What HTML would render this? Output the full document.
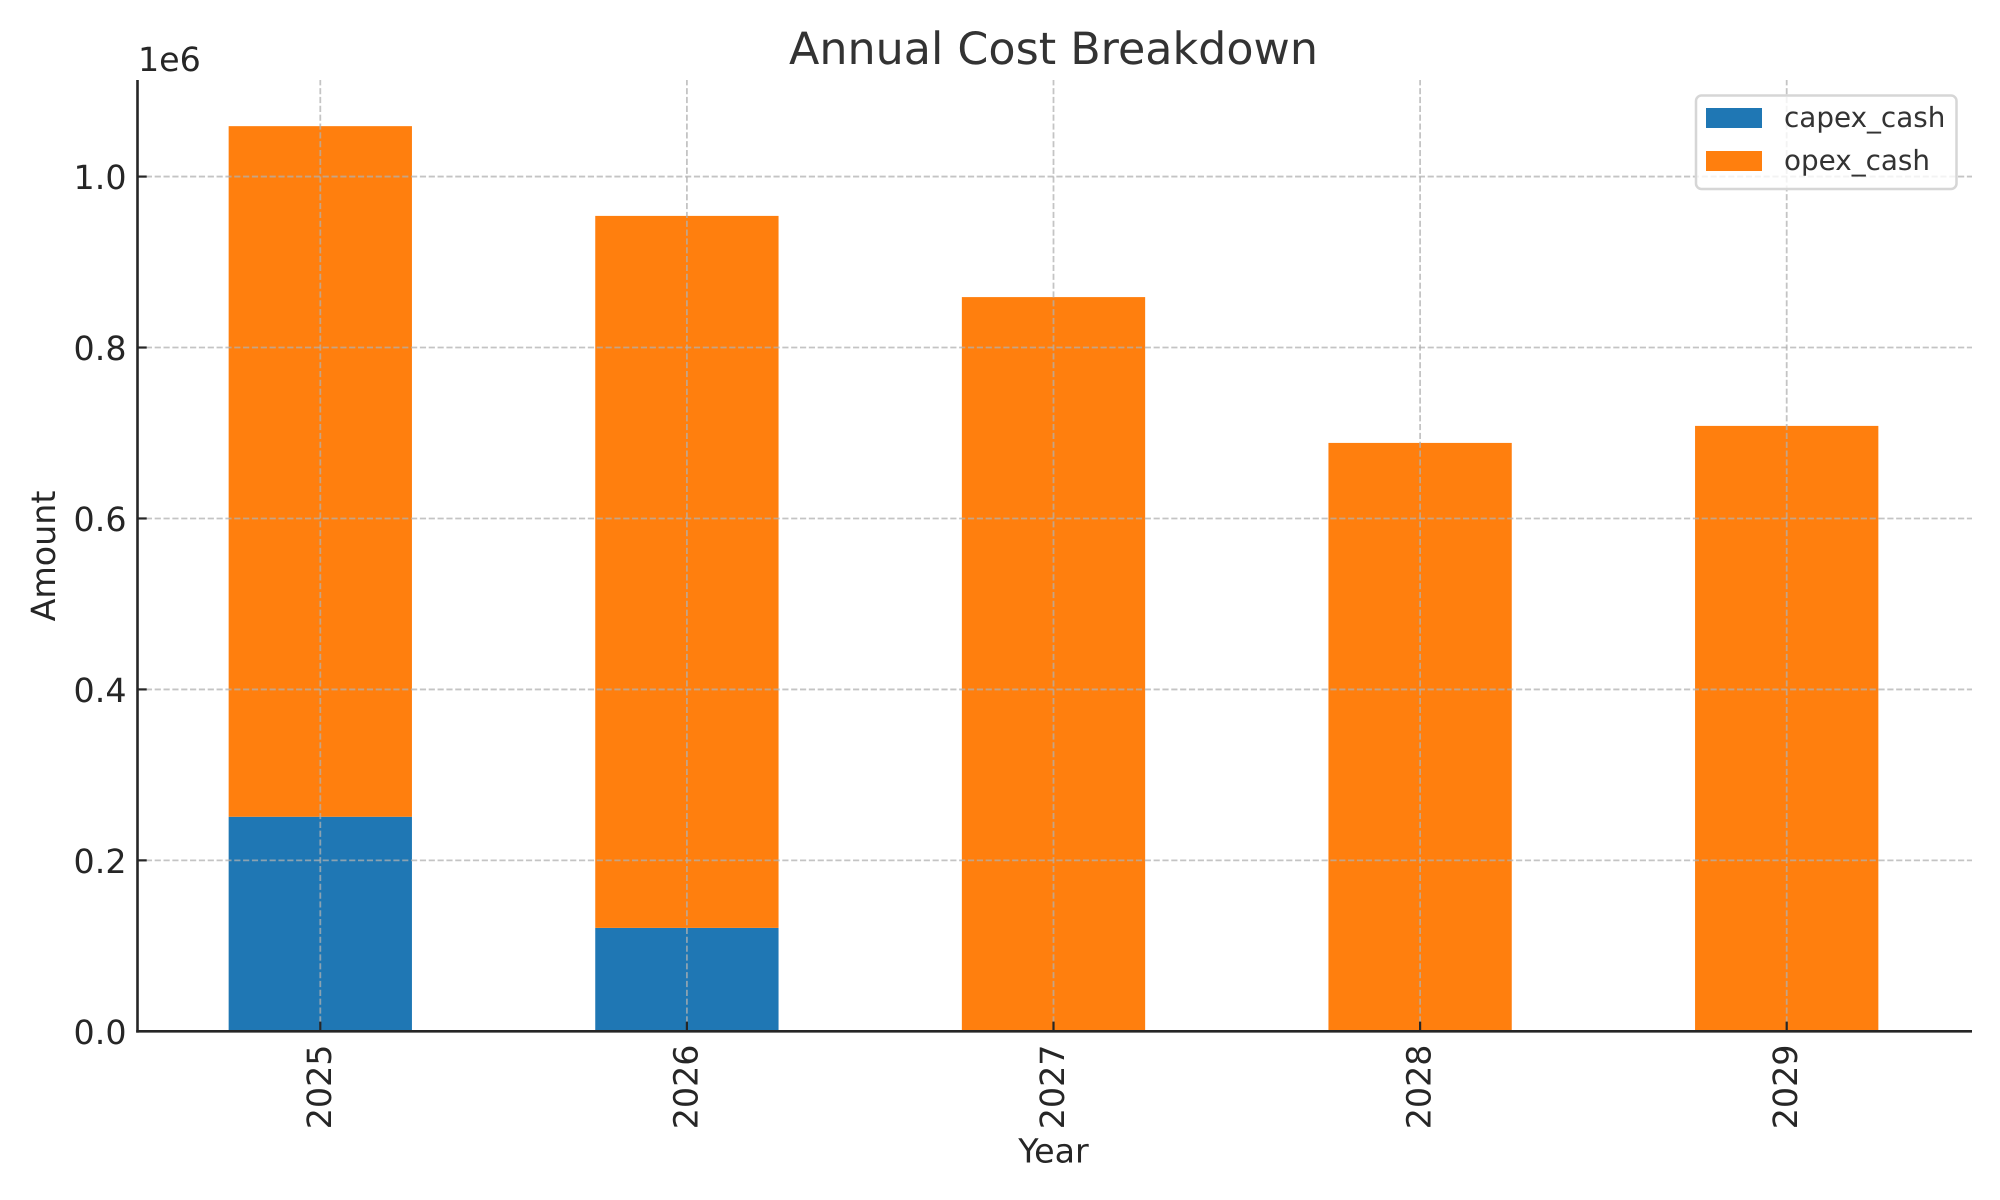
<!DOCTYPE html>
<html lang="en">
<head>
<meta charset="utf-8">
<title>Annual Cost Breakdown</title>
<style>
html,body{margin:0;padding:0;background:#fff;width:2000px;height:1200px;overflow:hidden}
svg{display:block}
text{font-family:"DejaVu Sans","Liberation Sans",sans-serif;text-rendering:geometricPrecision}
</style>
</head>
<body>
<svg id="chart" xmlns="http://www.w3.org/2000/svg" width="2000" height="1200" viewBox="0 0 2000 1200">
  <rect x="0" y="0" width="2000" height="1200" fill="#ffffff"/>
  <g id="bars"></g>
  <g id="grid"></g>
  <g id="ticks"></g>
  <line x1="137.5" y1="80" x2="137.5" y2="1032.6" stroke="#262626" stroke-width="2.6"/>
  <line x1="136.2" y1="1031.3" x2="1972" y2="1031.3" stroke="#262626" stroke-width="2.6"/>
  <text x="1053.5" y="64" text-anchor="middle" font-size="44.4" fill="#333333">Annual Cost Breakdown</text>
  <text x="1053.5" y="1162.5" text-anchor="middle" font-size="33.3" fill="#262626">Year</text>
  <text transform="translate(55 556) rotate(-90)" text-anchor="middle" font-size="33.3" fill="#262626">Amount</text>
  <text x="138" y="71" font-size="33.3" fill="#262626">1e6</text>
  <g>
    <rect x="1696" y="95.5" width="260.5" height="93.5" rx="5.5" ry="5.5" fill="#ffffff" fill-opacity="0.8" stroke="#d6d6d6" stroke-width="2.5"/>
    <rect x="1706" y="108" width="56" height="20" fill="#1f77b4"/>
    <text x="1784" y="127" font-size="27.8" fill="#333333">capex_cash</text>
    <rect x="1706" y="151" width="56" height="20" fill="#ff7f0e"/>
    <text x="1784" y="170" font-size="27.8" fill="#333333">opex_cash</text>
  </g>
</svg>
<script>
const categories = ["2025", "2026", "2027", "2028", "2029"];
const capexCash = [251000, 121000, 0, 0, 0];
const opexCash = [808000, 833000, 859000, 688400, 708300];
const yTickValues = [0, 0.2, 0.4, 0.6, 0.8, 1.0];
const yTickLabels = ["0.0", "0.2", "0.4", "0.6", "0.8", "1.0"];
const yDomainMax = 1113000;
const yOffsetScale = 1000000;

const NS = "http://www.w3.org/2000/svg";
const plotLeft = 137, plotRight = 1970, plotTop = 80, plotBottom = 1031.3;
const band = (plotRight - plotLeft) / categories.length;
const barWidth = band / 2;
function xCenter(i) { return plotLeft + band * (i + 0.5); }
function yScale(v) { return plotBottom - (v / yDomainMax) * (plotBottom - plotTop); }
function make(tag, attrs, parent) {
  const el = document.createElementNS(NS, tag);
  for (const k in attrs) el.setAttribute(k, attrs[k]);
  parent.appendChild(el);
  return el;
}
const barsG = document.getElementById("bars");
const gridG = document.getElementById("grid");
const ticksG = document.getElementById("ticks");

categories.forEach(function (cat, i) {
  const x = xCenter(i) - barWidth / 2;
  const capexTop = yScale(capexCash[i]);
  const totalTop = yScale(capexCash[i] + opexCash[i]);
  const capexBar = make("rect", { x: x, y: capexTop, width: barWidth, height: plotBottom - capexTop, fill: "#1f77b4" }, barsG);
  
  
  const opexBar = make("rect", { x: x, y: totalTop, width: barWidth, height: capexTop - totalTop, fill: "#ff7f0e" }, barsG);
  
  

  const gridLine = make("line", { x1: xCenter(i), y1: plotBottom, x2: xCenter(i), y2: plotTop, stroke: "#b0b0b0", "stroke-opacity": 0.75, "stroke-width": 1.8, "stroke-dasharray": "6.17 2.67" }, gridG);
  
  

  const tick = make("line", { x1: xCenter(i), y1: plotBottom, x2: xCenter(i), y2: plotBottom - 9.7, stroke: "#262626", "stroke-width": 2.2 }, ticksG);
  
  

  const label = make("text", { transform: "translate(" + (xCenter(i) + 10.5) + " 1044.5) rotate(-90)", "text-anchor": "end", "font-size": 33.3, fill: "#262626" }, ticksG);
  label.textContent = cat;
  
  
});

yTickValues.forEach(function (v, i) {
  const y = yScale(v * yOffsetScale);
  const gridLine = make("line", { x1: plotLeft, y1: y, x2: plotRight + 2, y2: y, stroke: "#b0b0b0", "stroke-opacity": 0.75, "stroke-width": 1.8, "stroke-dasharray": "6.17 2.67" }, gridG);
  
  

  const tick = make("line", { x1: plotLeft, y1: y, x2: plotLeft + 9.7, y2: y, stroke: "#262626", "stroke-width": 2.2 }, ticksG);
  
  

  const label = make("text", { x: 126.5, y: y + 12.5, "text-anchor": "end", "font-size": 33.3, fill: "#262626" }, ticksG);
  label.textContent = yTickLabels[i];
  
  
});
</script>
</body>
</html>
